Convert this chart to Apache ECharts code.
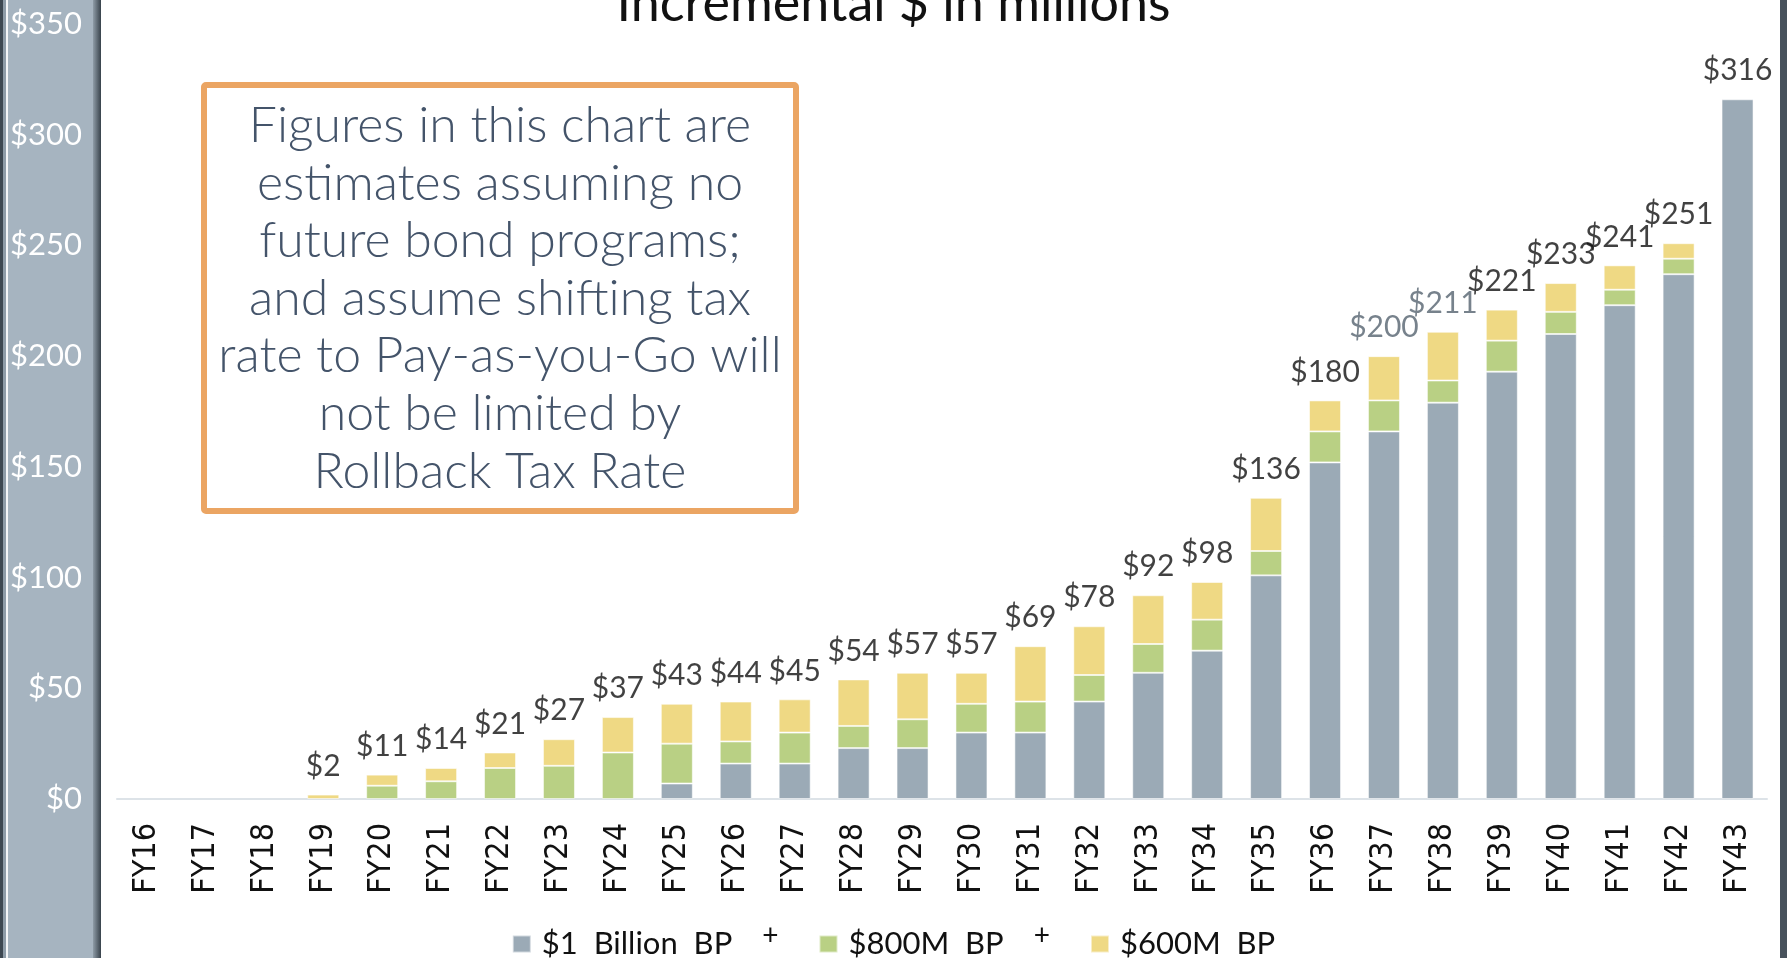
<!DOCTYPE html>
<html>
<head>
<meta charset="utf-8">
<title>Incremental $ in millions</title>
<script src="https://cdn.jsdelivr.net/npm/echarts@6/dist/echarts.min.js"></script>
<style>
    html, body { margin: 0; padding: 0; background: #ffffff; }
    #chart { width: 1787px; height: 958px; }
</style>
</head>
<body>
<div id="chart"></div>
<script>
// Fiscal years on the category axis
const years = [
    'FY16', 'FY17', 'FY18', 'FY19', 'FY20', 'FY21', 'FY22', 'FY23', 'FY24', 'FY25',
    'FY26', 'FY27', 'FY28', 'FY29', 'FY30', 'FY31', 'FY32', 'FY33', 'FY34', 'FY35',
    'FY36', 'FY37', 'FY38', 'FY39', 'FY40', 'FY41', 'FY42', 'FY43'
];

// Stack segments, $ millions
const billionBP = [0, 0, 0, 0, 0, 0, 0, 0, 0, 7, 16, 16, 23, 23, 30, 30, 44, 57, 67, 101, 152, 166, 179, 193, 210, 223, 237, 316];
const m800BP = [0, 0, 0, 0, 6, 8, 14, 15, 21, 18, 10, 14, 10, 13, 13, 14, 12, 13, 14, 11, 14, 14, 10, 14, 10, 7, 7, 0];
const m600BP = [0, 0, 0, 2, 5, 6, 7, 12, 16, 18, 18, 15, 21, 21, 14, 25, 22, 22, 17, 24, 14, 20, 22, 14, 13, 11, 7, 0];

// Printed totals above each bar
const totals = [null, null, null, 2, 11, 14, 21, 27, 37, 43, 44, 45, 54, 57, 57, 69, 78, 92, 98, 136, 180, 200, 211, 221, 233, 241, 251, 316];

// Totals that the source prints in the muted slate colour
const mutedTotals = ['FY37', 'FY38'];

const seriesNames = ['$1  Billion  BP', '$800M  BP', '$600M  BP'];

const note = [
    'Figures in this chart are',
    'estimates assuming no',
    'future bond programs;',
    'and assume shifting tax',
    'rate to Pay-as-you-Go will',
    'not be limited by',
    'Rollback Tax Rate'
];

const chart = echarts.init(document.getElementById('chart'));

const colors = {
    billion: '#9BAAB6',
    m800: '#B9D084',
    m600: '#EFD984',
    panel: '#A6B4C0',
    edge: '#3D4852',
    box: '#EBA563',
    noteText: '#44546A',
    muted: '#55636F'
};

const barStyle = (color) => ({
    color: color,
    borderColor: 'rgba(255,255,255,0.55)',
    borderWidth: 1
});

// empty segments would still draw a hairline border, so leave them out
const segment = (values) => values.map((v) => (v ? v : null));

chart.setOption({
    backgroundColor: '#ffffff',
    animation: false,
    textStyle: { fontFamily: 'Lato' },
    grid: { left: 117, right: 20, top: 24, bottom: 159 },
    legend: {
        data: seriesNames,
        left: 'center',
        top: 917,
        icon: 'rect',
        itemWidth: 18,
        itemHeight: 17,
        itemGap: 40,
        formatter: (name) => {
            const last = name === seriesNames[seriesNames.length - 1];
            return last ? `{n|${name}}` : `{n|${name}}{p|+}`;
        },
        textStyle: {
            rich: {
                n: { fontFamily: 'Lato', fontSize: 31, color: '#111111', padding: [0, 0, 0, 6] },
                p: { fontFamily: 'Lato', fontSize: 28, color: '#111111', padding: [0, 0, 16, 30] }
            }
        }
    },
    xAxis: {
        type: 'category',
        data: years,
        axisLine: { show: true, lineStyle: { color: '#DDE3E8', width: 2 } },
        axisTick: { show: false },
        axisLabel: {
            rotate: 90,
            margin: 24,
            color: '#111111',
            fontFamily: 'DejaVu Sans Condensed',
            fontSize: 32
        }
    },
    yAxis: {
        type: 'value',
        min: 0,
        max: 350,
        interval: 50,
        splitLine: { show: false },
        axisLine: { show: false },
        axisTick: { show: false },
        axisLabel: {
            margin: 35,
            color: '#FFFFFF',
            fontFamily: 'Lato',
            fontSize: 31,
            formatter: (v) => `$${v}`
        }
    },
    series: [
        {
            name: seriesNames[0],
            type: 'bar',
            stack: 'bp',
            barWidth: 32,
            itemStyle: barStyle(colors.billion),
            data: segment(billionBP)
        },
        {
            name: seriesNames[1],
            type: 'bar',
            stack: 'bp',
            itemStyle: barStyle(colors.m800),
            data: segment(m800BP)
        },
        {
            name: seriesNames[2],
            type: 'bar',
            stack: 'bp',
            itemStyle: barStyle(colors.m600),
            data: segment(m600BP)
        },
        {
            // invisible points that only carry the total labels
            name: 'total',
            type: 'scatter',
            symbolSize: 1,
            itemStyle: { color: 'rgba(0,0,0,0)' },
            silent: true,
            label: {
                show: true,
                position: 'top',
                distance: 13,
                fontFamily: 'Lato',
                fontSize: 30,
                color: '#111111',
                formatter: (p) => `$${p.value}`
            },
            data: totals.map((v, i) => (
                mutedTotals.includes(years[i])
                    ? { value: v, label: { color: colors.muted } }
                    : v
            ))
        }
    ],
    graphic: [
        // left slide panel behind the value axis
        { type: 'rect', z: -10, shape: { x: 0, y: 0, width: 3, height: 958 }, style: { fill: colors.edge } },
        { type: 'rect', z: -10, shape: { x: 3, y: 0, width: 3, height: 958 }, style: { fill: '#8E9CA8' } },
        { type: 'rect', z: -10, shape: { x: 6, y: 0, width: 2, height: 958 }, style: { fill: '#F4F6F8' } },
        { type: 'rect', z: -10, shape: { x: 8, y: 0, width: 85, height: 958 }, style: { fill: colors.panel } },
        {
            type: 'rect', z: -10,
            shape: { x: 93, y: 0, width: 8, height: 958 },
            style: {
                fill: new echarts.graphic.LinearGradient(0, 0, 1, 0, [
                    { offset: 0, color: '#8F9CA7' },
                    { offset: 1, color: '#38424B' }
                ])
            }
        },
        // right edge
        { type: 'rect', z: -10, shape: { x: 1780, y: 0, width: 7, height: 958 }, style: { fill: '#48525C' } },
        // chart title, clipped by the top of the frame
        {
            type: 'text',
            left: 'center',
            top: -22,
            style: {
                text: 'Incremental $ in millions',
                fontFamily: 'Lato',
                fontSize: 52,
                fill: '#111111'
            }
        },
        // orange note box
        {
            type: 'rect',
            shape: { x: 204, y: 85, width: 592, height: 426, r: 2 },
            style: { fill: '#ffffff', stroke: colors.box, lineWidth: 6 }
        },
        {
            type: 'text',
            x: 500,
            y: 97,
            style: {
                text: note.join('\n'),
                fontFamily: 'Lato',
                fontWeight: 300,
                fontSize: 50,
                lineHeight: 57.6,
                align: 'center',
                verticalAlign: 'top',
                fill: colors.noteText
            }
        }
    ]
});
</script>
</body>
</html>
